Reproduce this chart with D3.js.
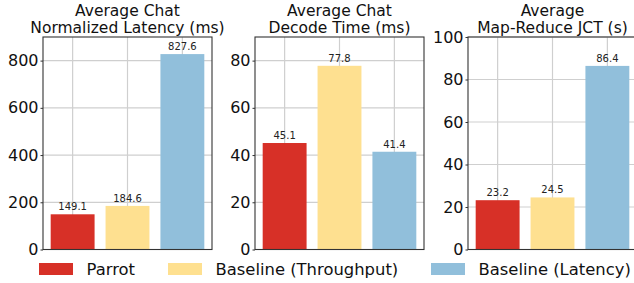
<!DOCTYPE html>
<html><head><meta charset="utf-8">
<script src="https://cdn.jsdelivr.net/npm/d3@7"></script>
<style>body{margin:0;background:#fff}svg{display:block}text{font-family:"DejaVu Sans",sans-serif}</style>
</head><body><svg id="c" width="634" height="283"></svg>
<script>
const series = ["Parrot", "Baseline (Throughput)", "Baseline (Latency)"];
const colors = ["#d73027", "#fee090", "#91bfdb"];
const titles = [["Average Chat", "Normalized Latency (ms)"], ["Average Chat", "Decode Time (ms)"], ["Average", "Map-Reduce JCT (s)"]];
const latencyValues = [149.1, 184.6, 827.6];
const decodeValues = [45.1, 77.8, 41.4];
const jctValues = [23.2, 24.5, 86.4];
const yMaxes = [900, 90, 100];
const yTicks = [[0, 200, 400, 600, 800], [0, 20, 40, 60, 80], [0, 20, 40, 60, 80, 100]];
const panelValues = [latencyValues, decodeValues, jctValues];

const svg = d3.select("#c");
const lefts = [43, 255, 468], W = 169, plotTop = 37, plotBottom = 249.5;

panelValues.forEach((vals, p) => {
  const g = svg.append("g");
  const x = d3.scaleLinear().domain([-0.54, 2.54]).range([lefts[p], lefts[p] + W]);
  const y = d3.scaleLinear().domain([0, yMaxes[p]]).range([plotBottom, plotTop]);
  // grid
  g.selectAll(".hg").data(yTicks[p]).enter().append("line")
    .attr("x1", lefts[p]).attr("x2", lefts[p] + W)
    .attr("y1", d => y(d)).attr("y2", d => y(d))
    .attr("stroke", "#cfcfcf").attr("stroke-width", 1.2);
  g.selectAll(".vg").data([0, 1, 2]).enter().append("line")
    .attr("x1", d => x(d)).attr("x2", d => x(d))
    .attr("y1", plotTop).attr("y2", plotBottom)
    .attr("stroke", "#cfcfcf").attr("stroke-width", 1.2);
  // bars
  g.selectAll(".bar").data(vals).enter().append("rect")
    .attr("x", (d, i) => x(i - 0.4)).attr("width", (d, i) => x(i + 0.4) - x(i - 0.4))
    .attr("y", d => y(d)).attr("height", d => plotBottom - y(d))
    .attr("fill", (d, i) => colors[i]);
  g.selectAll(".lbl").data(vals).enter().append("text")
    .attr("x", (d, i) => x(i)).attr("y", d => y(d) - 4)
    .attr("text-anchor", "middle").attr("font-size", 10).attr("fill", "#222")
    .text(d => d.toFixed(1));
  // frame
  g.append("rect").attr("x", lefts[p]).attr("y", plotTop).attr("width", W).attr("height", plotBottom - plotTop)
    .attr("fill", "none").attr("stroke", "#333").attr("stroke-width", 1.1);
  // y axis
  const ax = g.append("g").attr("transform", `translate(${lefts[p]},0)`)
    .call(d3.axisLeft(y).tickValues(yTicks[p]).tickSize(2.5).tickPadding(2).tickFormat(d3.format("d")));
  ax.select(".domain").remove();
  ax.selectAll("line").attr("stroke", "#333");
  ax.selectAll("text").attr("font-size", 16).attr("fill", "#111").attr("font-family", "DejaVu Sans");
  // title
  const cx = lefts[p] + W / 2;
  titles[p].forEach((t, k) => {
    svg.append("text").attr("x", cx).attr("y", 15.5 + k * 17).attr("text-anchor", "middle")
      .attr("font-size", 15.5).attr("fill", "#111").text(t);
  });
});

// legend
const legX = [39, 168, 431];
series.forEach((s, i) => {
  svg.append("rect").attr("x", legX[i]).attr("y", 263).attr("width", 34).attr("height", 12).attr("fill", colors[i]);
  svg.append("text").attr("x", legX[i] + 47.5).attr("y", 274.5).attr("font-size", 16.4).attr("fill", "#111").text(s);
});
</script></body></html>
